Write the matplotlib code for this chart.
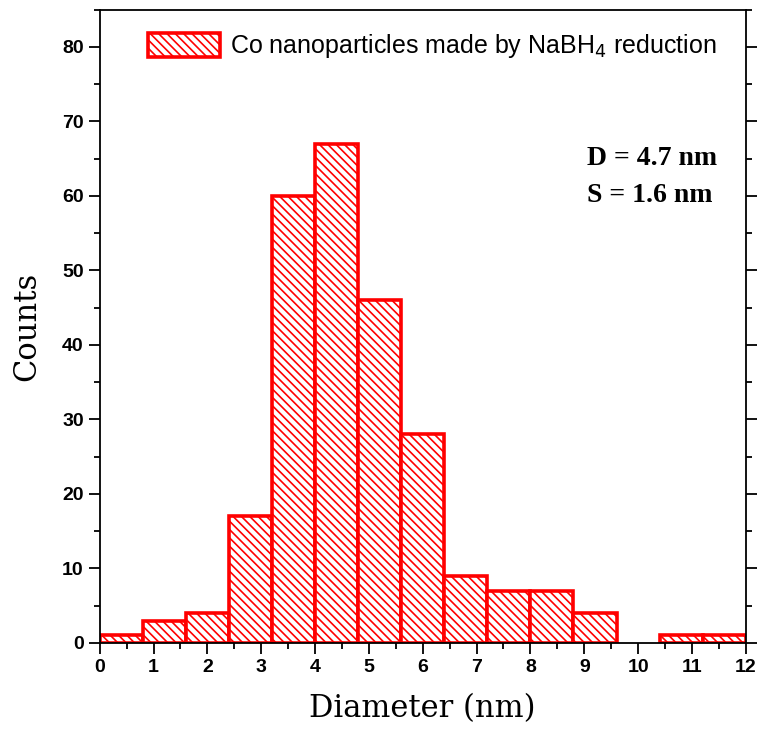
import numpy as np
import matplotlib.pyplot as plt
from matplotlib.ticker import MultipleLocator

# Histogram data: bin edges (nm) and counts
bin_edges = [0.0, 0.8, 1.6, 2.4, 3.2, 4.0, 4.8, 5.6, 6.4, 7.2, 8.0, 8.8, 9.6, 10.4, 11.2, 12.0]
counts = [1, 3, 4, 17, 60, 67, 46, 28, 9, 7, 7, 4, 0, 1, 1]

x_ticks = list(range(0, 13))
y_ticks = [0, 10, 20, 30, 40, 50, 60, 70, 80]

plt.rcParams['hatch.color'] = 'red'
plt.rcParams['hatch.linewidth'] = 1.2

fig = plt.figure(figsize=(7.61, 7.45), dpi=100)
ax = fig.add_axes([0.131, 0.137, 0.849, 0.850])

left = np.array(bin_edges[:-1])
widths = np.diff(bin_edges)
bars = ax.bar(left, counts, width=widths, align='edge', color='white',
              edgecolor='red', linewidth=2.6, hatch='\\\\\\\\',
              label='Co nanoparticles made by NaBH$_4$ reduction')
for b, c in zip(bars, counts):
    if c == 0:
        b.set_visible(False)

ax.set_xlim(0, 12)
ax.set_ylim(0, 85)
ax.set_xticks(x_ticks)
ax.set_yticks(y_ticks)
ax.xaxis.set_minor_locator(MultipleLocator(0.5))
ax.yaxis.set_minor_locator(MultipleLocator(5))
ax.tick_params(which='both', direction='out', top=False, right=True, width=1.3)
ax.tick_params(which='major', length=8)
ax.tick_params(which='minor', length=4)
for lab in ax.get_xticklabels() + ax.get_yticklabels():
    lab.set_fontweight('bold')
    lab.set_fontsize(14)
    lab.set_family('Liberation Sans')
for s in ax.spines.values():
    s.set_linewidth(1.3)

ax.set_xlabel('Diameter (nm)', family='DejaVu Serif', fontsize=22, labelpad=12)
ax.set_ylabel('Counts', family='DejaVu Serif', fontsize=22, labelpad=14)

leg = ax.legend(loc='upper right', frameon=False,
                handlelength=2.9, handleheight=1.1, handletextpad=0.4,
                prop={'family': 'Liberation Sans', 'size': 18},
                bbox_to_anchor=(0.99, 1.0))

ax.text(0.754, 0.785, 'D = 4.7 nm\nS = 1.6 nm', transform=ax.transAxes,
        ha='left', va='top', family='Liberation Serif', fontweight='bold',
        fontsize=20, linespacing=1.65)

fig.savefig('out.png', dpi=100)
